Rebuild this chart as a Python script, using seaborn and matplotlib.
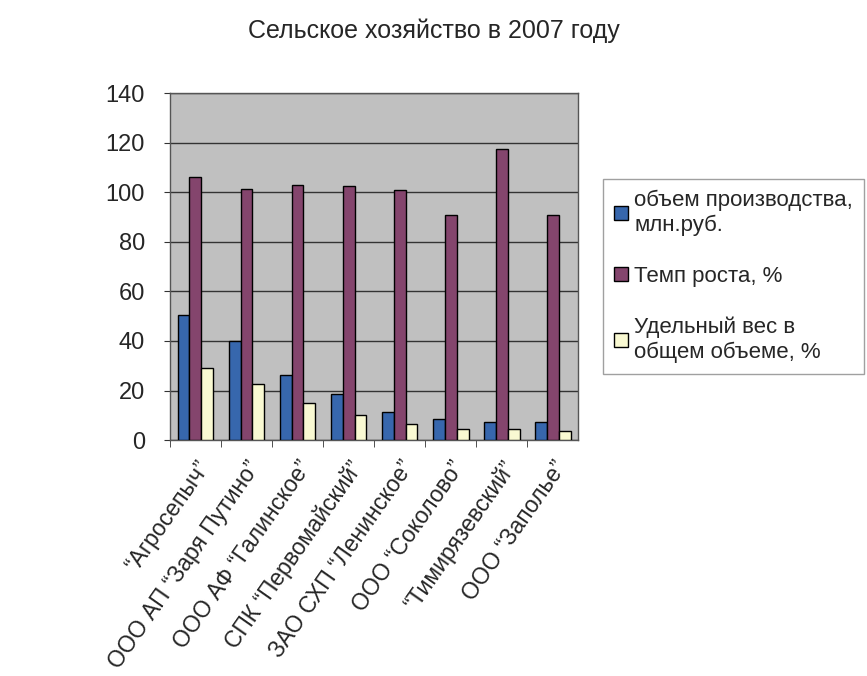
import numpy as np
import pandas as pd
import matplotlib
matplotlib.use('Agg')
import matplotlib.pyplot as plt
import seaborn as sns

farm_labels = ['\u201cАгросепыч\u201d', 'ООО АП \u201cЗаря Путино\u201d', 'ООО АФ \u201cГалинское\u201d',
               'СПК \u201cПервомайский\u201d', 'ЗАО СХП \u201cЛенинское\u201d', 'ООО \u201cСоколово\u201d',
               '\u201cТимирязевский\u201d', 'ООО \u201cЗаполье\u201d']
volume = [50.4, 40.0, 26.3, 18.5, 11.4, 8.7, 7.4, 7.4]
growth = [106.2, 101.2, 103.0, 102.7, 100.8, 90.7, 117.6, 90.7]
share = [28.9, 22.6, 14.8, 10.2, 6.3, 4.4, 4.3, 3.5]
series = ['объем производства,\nмлн.руб.', 'Темп роста, %', 'Удельный вес в\nобщем объеме, %']
colors = ['#2464c0', '#8e3a70', '#ffffcc']

df = pd.DataFrame({
    'farm': farm_labels * 3,
    'series': np.repeat(series, len(farm_labels)),
    'value': volume + growth + share,
})

sns.set_style('white')
plt.rcParams['font.family'] = ['Liberation Sans', 'DejaVu Sans']

fig = plt.figure(figsize=(8.67, 6.76), dpi=100)
ax = fig.add_axes([0.196, 0.349, 0.471, 0.513])
ax.set_facecolor('#c0c0c0')

sns.barplot(data=df, x='farm', y='value', hue='series', palette=colors,
            width=0.7, edgecolor='black', linewidth=1, ax=ax, legend=True, zorder=3)

ax.set_ylim(0, 140)
ax.set_yticks(range(0, 141, 20))
ax.yaxis.grid(True, color='#333333', linewidth=1, zorder=0)
ax.set_axisbelow(True)
ax.set_xlim(-0.5, len(farm_labels) - 0.5)
ax.set_xlabel('')
ax.set_ylabel('')
for sp in ax.spines.values():
    sp.set_color('#555555')
    sp.set_linewidth(1)

ax.tick_params(axis='y', labelsize=17, length=4, left=True, color='#333333', pad=14)
ax.set_xticks(np.arange(len(farm_labels)) - 0.5, minor=True)
ax.set_xticks(np.arange(len(farm_labels)))
ax.set_xticklabels(farm_labels, rotation=55, ha='right', rotation_mode='anchor')
ax.tick_params(axis='x', which='major', length=0, pad=12, labelsize=16.5)
ax.tick_params(axis='x', which='minor', length=5, bottom=True, color='#333333')

handles, labels = ax.get_legend_handles_labels()
ax.get_legend().remove()
leg = fig.legend(handles, labels, loc='upper left', bbox_to_anchor=(0.683, 0.752),
                 fontsize=16, frameon=True, fancybox=False, edgecolor='#888888',
                 handlelength=0.6, handleheight=0.6, handletextpad=0.3, labelspacing=1.35,
                 borderpad=0.5)
leg.get_frame().set_linewidth(1)

fig.text(0.5, 0.955, 'Сельское хозяйство в 2007 году', ha='center', va='center', fontsize=18)

fig.savefig('out.png', dpi=100)
